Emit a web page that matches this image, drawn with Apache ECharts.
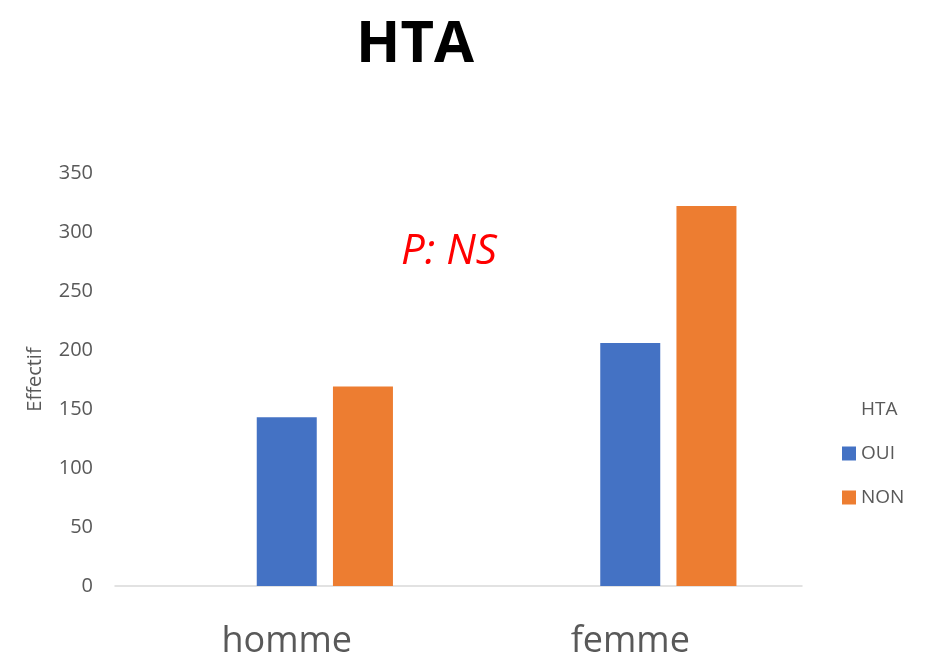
<!DOCTYPE html>
<html>
<head>
<meta charset="utf-8">
<script src="https://cdn.jsdelivr.net/npm/echarts@6/dist/echarts.min.js"></script>
<style>
  html, body { margin: 0; padding: 0; background: #fff; }
  #chart { width: 931px; height: 661px; }
</style>
</head>
<body>
<div id="chart"></div>
<script>
// Categories and series values
const categories = ['homme', 'femme'];
const seriesNames = ['HTA', 'OUI', 'NON'];
const htaValues = [null, null];      // header series: empty, keeps its slot in each group
const ouiValues = [143, 206];
const nonValues = [169, 322];
const yTicks = { min: 0, max: 350, interval: 50 };

const chart = echarts.init(document.getElementById('chart'));
const font = 'Open Sans, Liberation Sans, sans-serif';

chart.setOption({
  backgroundColor: '#ffffff',
  animation: false,
  title: {
    text: 'HTA',
    left: 351,
    top: 11,
    textStyle: { fontFamily: font, fontSize: 58, fontWeight: 'bold', color: '#000' }
  },
  graphic: [{
    type: 'text',
    left: 401,
    top: 231,
    style: {
      text: 'P: NS',
      font: 'italic 42px ' + font,
      fill: '#ff0000'
    }
  }],
  legend: {
    orient: 'vertical',
    left: 837,
    top: 395,
    itemWidth: 14,
    itemHeight: 14,
    itemGap: 25,
    icon: 'rect',
    textStyle: { fontFamily: font, fontSize: 19, color: '#595959' },
    data: [
      { name: 'HTA', itemStyle: { color: 'rgba(0,0,0,0)' } },
      { name: 'OUI' },
      { name: 'NON' }
    ]
  },
  grid: { left: 115, right: 129, top: 173, bottom: 75, containLabel: false },
  xAxis: {
    type: 'category',
    data: categories,
    axisLine: { lineStyle: { color: '#d9d9d9', width: 1.5 } },
    axisTick: { show: false },
    axisLabel: { fontFamily: font, fontSize: 36, color: '#595959', margin: 38 }
  },
  yAxis: {
    type: 'value',
    min: yTicks.min,
    max: yTicks.max,
    interval: yTicks.interval,
    name: 'Effectif',
    nameLocation: 'middle',
    nameGap: 70,
    nameTextStyle: { fontFamily: font, fontSize: 20, color: '#595959' },
    axisLine: { show: false },
    axisTick: { show: false },
    splitLine: { show: false },
    axisLabel: { fontFamily: font, fontSize: 20, color: '#595959', margin: 22 }
  },
  series: [
    { name: seriesNames[0], type: 'bar', data: htaValues, barWidth: 60, barGap: '27%', barCategoryGap: '38%', itemStyle: { color: 'rgba(0,0,0,0)' } },
    { name: seriesNames[1], type: 'bar', data: ouiValues, barWidth: 60, barGap: '27%', itemStyle: { color: '#4472C4' } },
    { name: seriesNames[2], type: 'bar', data: nonValues, barWidth: 60, barGap: '27%', itemStyle: { color: '#ED7D31' } }
  ]
});
</script>
</body>
</html>
